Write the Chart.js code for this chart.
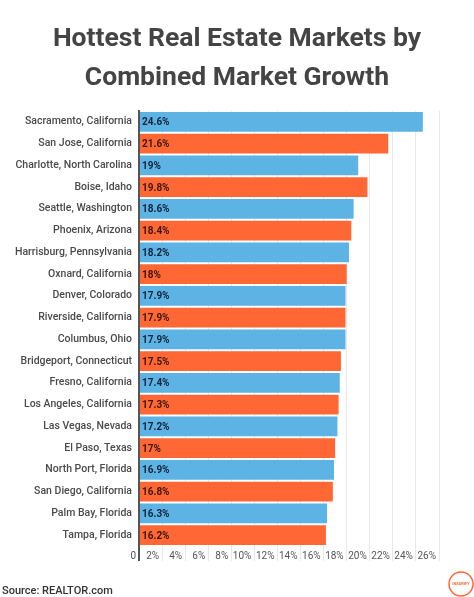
<!DOCTYPE html>
<html>
<head>
<meta charset="utf-8">
<script src="https://cdn.jsdelivr.net/npm/chart.js@4"></script>
<style>
  html, body { margin: 0; padding: 0; background: #fff; }
  #wrap { position: relative; width: 474px; height: 597px; }
</style>
</head>
<body>
<div id="wrap"><canvas id="chart" width="474" height="597"></canvas></div>
<script>
const cities = [
  'Sacramento, California', 'San Jose, California', 'Charlotte, North Carolina',
  'Boise, Idaho', 'Seattle, Washington', 'Phoenix, Arizona',
  'Harrisburg, Pennsylvania', 'Oxnard, California', 'Denver, Colorado',
  'Riverside, California', 'Columbus, Ohio', 'Bridgeport, Connecticut',
  'Fresno, California', 'Los Angeles, California', 'Las Vegas, Nevada',
  'El Paso, Texas', 'North Port, Florida', 'San Diego, California',
  'Palm Bay, Florida', 'Tampa, Florida'
];
const growth = [24.6, 21.6, 19, 19.8, 18.6, 18.4, 18.2, 18, 17.9, 17.9,
                17.9, 17.5, 17.4, 17.3, 17.2, 17, 16.9, 16.8, 16.3, 16.2];
const xMax = 26;
const xStep = 2;

const BLUE = '#5db3e4';
const ORANGE = '#ff6834';
const barColors = growth.map((v, i) => i % 2 === 0 ? BLUE : ORANGE);
const labelColors = growth.map((v, i) => i % 2 === 0 ? '#10233a' : '#3a1608');

const tickText = v => v === 0 ? '0' : v + '%';

// value labels in the bars, x tick labels (sit left of their grid line), source, logo
const extras = {
  id: 'extras',
  afterDatasetsDraw(chart) {
    const ctx = chart.ctx;
    const meta = chart.getDatasetMeta(0);
    ctx.save();
    ctx.font = 'bold 10px Roboto';
    ctx.textBaseline = 'middle';
    ctx.textAlign = 'left';
    meta.data.forEach((bar, i) => {
      ctx.fillStyle = labelColors[i];
      ctx.fillText(growth[i] + '%', bar.base + 2, bar.y + 1);
    });
    ctx.restore();
  },
  afterDraw(chart) {
    const ctx = chart.ctx;
    const x = chart.scales.x;
    ctx.save();
    ctx.font = '10px Roboto';
    ctx.fillStyle = '#555';
    ctx.textAlign = 'right';
    ctx.textBaseline = 'middle';
    x.ticks.forEach(t => {
      ctx.fillText(tickText(t.value), x.getPixelForValue(t.value) - 3, chart.chartArea.bottom + 10);
    });

    ctx.textAlign = 'left';
    ctx.textBaseline = 'alphabetic';
    ctx.font = '500 11px Roboto';
    ctx.fillStyle = '#333';
    ctx.fillText('Source: REALTOR.com', 2, 594);

    ctx.strokeStyle = ORANGE;
    ctx.lineWidth = 1.5;
    ctx.beginPath();
    ctx.arc(461, 584, 12, 0, Math.PI * 2);
    ctx.stroke();
    ctx.fillStyle = ORANGE;
    ctx.font = 'bold 4px Roboto';
    ctx.textAlign = 'center';
    ctx.textBaseline = 'middle';
    ctx.fillText('INSURIFY', 461, 584);
    ctx.restore();
  }
};

new Chart(document.getElementById('chart'), {
  type: 'bar',
  data: {
    labels: cities,
    datasets: [{
      data: growth,
      backgroundColor: barColors,
      barPercentage: 0.91,
      categoryPercentage: 1
    }]
  },
  options: {
    indexAxis: 'y',
    responsive: false,
    animation: false,
    layout: { padding: { left: 0, right: 0, top: 0, bottom: 36 } },
    plugins: {
      legend: { display: false },
      tooltip: { enabled: false },
      title: {
        display: true,
        text: ['Hottest Real Estate Markets by', 'Combined Market Growth'],
        color: '#444',
        font: { family: 'Roboto', size: 26.5, weight: 'bold', lineHeight: 1.47 },
        padding: { top: 20, bottom: 13 }
      }
    },
    scales: {
      x: {
        type: 'linear',
        min: 0,
        max: xMax,
        border: { display: false },
        grid: {
          color: c => c.tick && c.tick.value === 0 ? '#555' : '#e8e8e8',
          lineWidth: c => c.tick && c.tick.value === 0 ? 2 : 1,
          tickLength: 15
        },
        ticks: { stepSize: xStep, display: false }
      },
      y: {
        afterFit(scale) { scale.width = 139; },
        border: { display: true, color: '#555', width: 2 },
        grid: { display: false, drawTicks: false },
        ticks: {
          padding: 7,
          color: '#4a4a4a',
          font: { family: 'Roboto', size: 10.5, weight: '500' },
          autoSkip: false
        }
      },
      // empty right-hand gutter so the plot stops at 26%
      gutter: {
        type: 'linear',
        position: 'right',
        afterFit(scale) { scale.width = 35; },
        border: { display: false },
        grid: { display: false, drawTicks: false },
        ticks: { display: false }
      }
    }
  },
  plugins: [extras]
});
</script>
</body>
</html>
